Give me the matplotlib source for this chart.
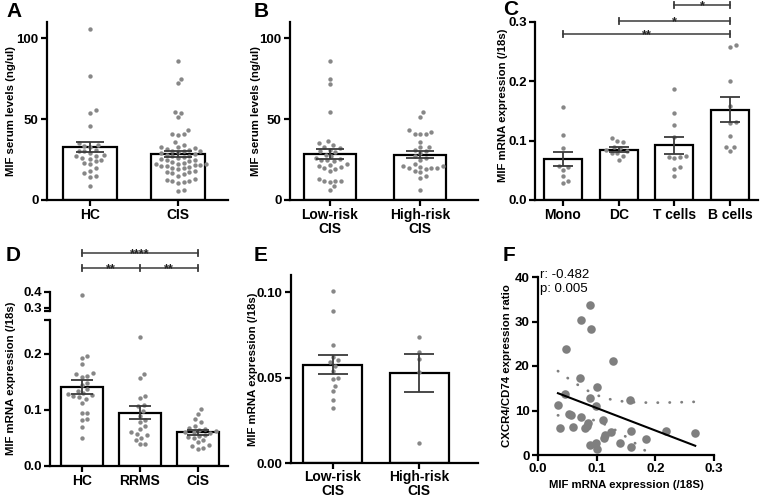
import numpy as np
import matplotlib
matplotlib.use("Agg")
import matplotlib.pyplot as plt
from matplotlib.transforms import blended_transform_factory

plt.rcParams['font.family'] = ['Liberation Sans', 'DejaVu Sans']
plt.rcParams['font.weight'] = 'bold'
plt.rcParams['axes.labelweight'] = 'bold'

# ---------------- data ----------------
# Panel A
a_groups = ['HC', 'CIS']
a_hc = [105.5, 76.5, 55.5, 53.5, 45.5, 35, 34, 33.5, 32.5, 31, 30, 30, 29, 28, 27.5, 27,
        26, 25.5, 25, 24, 23, 22, 20, 18, 16.5, 15, 14.5, 8.5]
a_cis = [86, 75, 72, 54.5, 54, 51, 43, 41, 40.5, 40, 36, 34, 33, 32.5, 32, 31.5, 31, 30.5,
         30, 30, 29.5, 29, 28.5, 28, 27.5, 27, 26.5, 26, 25.5, 25, 24.5, 24, 23.5, 23, 22.5,
         22, 22, 21.5, 21.5, 21, 21, 20.5, 20, 19.5, 19, 18, 17.5, 17, 16.5, 16, 15, 13,
         12.5, 12, 11.5, 11, 10.5, 6, 5.5]
a_mean = [32.7, 28.4]
a_sem = [3.3, 1.8]

# Panel B
b_groups = ['Low-risk\nCIS', 'High-risk\nCIS']
b_low = [86, 75, 71.5, 54.5, 36.5, 35, 34, 33, 32, 31, 30, 29.5, 28, 27, 26, 25.5, 25, 24.5,
         24, 22, 21.5, 21, 20.5, 20, 19, 18, 13, 12, 12, 11.5, 11, 8.5, 6]
b_high = [54.5, 51.5, 43, 42, 41, 40.5, 40.5, 36, 33, 32.5, 31, 30, 29, 27, 26, 25, 22, 21,
          21, 20.5, 20, 20, 19.5, 19, 18, 17, 15, 13.5, 6]
b_mean = [28.6, 28.0]
b_sem = [3.0, 2.2]

# Panel C
c_groups = ['Mono', 'DC', 'T cells', 'B cells']
c_mono = [0.156, 0.110, 0.088, 0.057, 0.056, 0.050, 0.040, 0.032, 0.028]
c_dc = [0.104, 0.100, 0.097, 0.090, 0.088, 0.085, 0.083, 0.080, 0.079, 0.075, 0.067]
c_t = [0.187, 0.147, 0.127, 0.107, 0.075, 0.073, 0.072, 0.070, 0.055, 0.053, 0.041]
c_b = [0.261, 0.258, 0.201, 0.158, 0.131, 0.130, 0.108, 0.090, 0.089, 0.082]
c_mean = [0.069, 0.085, 0.092, 0.152]
c_sem = [0.012, 0.004, 0.014, 0.021]

# Panel D
d_groups = ['HC', 'RRMS', 'CIS']
d_hc = [0.38, 0.196, 0.193, 0.181, 0.165, 0.164, 0.160, 0.158, 0.148, 0.145, 0.137, 0.133,
        0.130, 0.128, 0.126, 0.124, 0.122, 0.120, 0.113, 0.095, 0.094, 0.083, 0.082, 0.069, 0.050]
d_rrms = [0.230, 0.164, 0.157, 0.124, 0.121, 0.108, 0.106, 0.098, 0.089, 0.082, 0.078, 0.072,
          0.066, 0.060, 0.057, 0.055, 0.050, 0.047, 0.040, 0.039]
d_cis = [0.101, 0.092, 0.083, 0.078, 0.072, 0.068, 0.066, 0.064, 0.062, 0.061, 0.060, 0.058,
         0.056, 0.054, 0.052, 0.050, 0.046, 0.042, 0.038, 0.035, 0.032, 0.030]
d_mean = [0.141, 0.095, 0.060]
d_sem = [0.013, 0.011, 0.004]

# Panel E
e_groups = ['Low-risk\nCIS', 'High-risk\nCIS']
e_low = [0.1005, 0.089, 0.069, 0.062, 0.060, 0.059, 0.057, 0.054, 0.050, 0.049, 0.045,
         0.042, 0.037, 0.032]
e_high = [0.074, 0.065, 0.061, 0.053, 0.0115]
e_mean = [0.0575, 0.0528]
e_sem = [0.0056, 0.0110]

# Panel F
f_x = [0.089, 0.074, 0.090, 0.048, 0.128, 0.071, 0.101, 0.046, 0.088, 0.157, 0.034, 0.099,
       0.053, 0.056, 0.074, 0.110, 0.086, 0.083, 0.080, 0.060, 0.037, 0.125, 0.158, 0.218,
       0.268, 0.114, 0.112, 0.184, 0.140, 0.158, 0.089, 0.099, 0.100]
f_y = [33.8, 30.4, 28.3, 23.9, 21.1, 17.2, 15.3, 13.8, 12.8, 12.3, 11.3, 11.1, 9.2, 9.1, 8.5,
       7.8, 7.3, 6.6, 6.0, 6.4, 6.0, 5.2, 5.5, 5.3, 4.9, 4.5, 3.8, 3.7, 2.6, 1.9, 2.2, 2.7, 1.3]
f_text = 'r: -0.482\np: 0.005'

# ---------------- style ----------------
W, H = 760, 497
fig = plt.figure(figsize=(W / 100, H / 100), dpi=100)
POINT = '#878787'
ERR = '#3a3a3a'
LW = 1.6
YLAB = 8.2
TICK = 9.5


def add_ax(x0, x1, yb, yt):
    return fig.add_axes([x0 / W, 1 - yb / H, (x1 - x0) / W, (yb - yt) / H])


def style(ax):
    for s in ['top', 'right']:
        ax.spines[s].set_visible(False)
    for s in ['left', 'bottom']:
        ax.spines[s].set_linewidth(LW)
    ax.tick_params(width=LW, length=4, labelsize=TICK, pad=2)
    ax.set_facecolor('none')


def swarm_x(ax, center, values, d):
    pts = ax.transData.transform(np.column_stack([np.full(len(values), center), values]))
    cx = pts[0, 0]
    ys = pts[:, 1]
    order = np.argsort(ys)
    placed = []
    xs = np.zeros(len(values))
    step = d * 0.25
    for i in order:
        y = ys[i]
        best = 0.0
        for k in range(0, 200):
            cands = [0.0] if k == 0 else [k * step, -k * step]
            found = None
            for off in cands:
                if all((off - px) ** 2 + (y - py) ** 2 >= d * d * 0.98 for px, py in placed):
                    found = off
                    break
            if found is not None:
                best = found
                break
        placed.append((best, y))
        xs[i] = cx + best
    return ax.transData.inverted().transform(np.column_stack([xs, ys]))[:, 0]


def bar_panel(ax, groups, data_list, means, sems, width, cap, dot_d=5.6, s=10):
    x = np.arange(len(groups))
    ax.bar(x, means, width, color='white', edgecolor='black', linewidth=LW, zorder=2)
    for i, vals in enumerate(data_list):
        xs = swarm_x(ax, i, vals, dot_d)
        ax.scatter(xs, vals, s=s, color=POINT, linewidths=0, zorder=3, clip_on=False)
    ax.errorbar(x, means, yerr=sems, fmt='none', ecolor=ERR, elinewidth=1.3,
                capsize=cap, capthick=1.3, zorder=4)
    ax.set_xticks(x)
    ax.set_xticklabels(groups, fontsize=TICK + 0.5, linespacing=1.0)


def bracket(ax, x0, x1, ypx, mids=()):
    tr = blended_transform_factory(ax.transData, fig.transFigure)
    yf = 1 - ypx / H
    dy = 3 / H
    ax.plot([x0, x1], [yf, yf], transform=tr, color=ERR, lw=1.1, clip_on=False)
    for xe in (x0, x1) + tuple(mids):
        ax.plot([xe, xe], [yf - dy, yf + dy], transform=tr, color=ERR, lw=1.3, clip_on=False)


def star(ax, xc, ypx, label):
    tr = blended_transform_factory(ax.transData, fig.transFigure)
    ax.text(xc, 1 - (ypx + 4.5) / H, label, transform=tr, ha='center', va='baseline',
            fontsize=9, color='#222222')


def letter(xpx, ypx, t):
    fig.text(xpx / W, 1 - ypx / H, t, fontsize=15, fontweight='bold', va='top', ha='left')


def ylabel_at(xpx, ax, text, yfrac=0.5):
    ax.set_ylabel(text, fontsize=YLAB)
    ax.yaxis.set_label_coords(xpx / W, yfrac,
                              transform=blended_transform_factory(fig.transFigure, ax.transAxes))
    ax.yaxis.label.set_va('center')
    ax.yaxis.label.set_ha('center')


# ---------------- Panel A ----------------
axA = add_ax(47, 228, 200, 22)
style(axA)
axA.set_xlim(-0.49, 1.57)
axA.set_ylim(0, 110)
axA.set_yticks([0, 50, 100])
bar_panel(axA, a_groups, [a_hc, a_cis], a_mean, a_sem, 0.62, 10)
ylabel_at(11, axA, 'MIF serum levels (ng/ul)')
letter(6, 2, 'A')

# ---------------- Panel B ----------------
axB = add_ax(290, 478, 200, 22)
style(axB)
axB.set_xlim(-0.44, 1.64)
axB.set_ylim(0, 110)
axB.set_yticks([0, 50, 100])
bar_panel(axB, b_groups, [b_low, b_high], b_mean, b_sem, 0.58, 10)
ylabel_at(256, axB, 'MIF serum levels (ng/ul)')
letter(254, 2, 'B')

# ---------------- Panel C ----------------
axC = add_ax(535, 758, 200, 22)
style(axC)
axC.set_xlim(-0.5, 3.5)
axC.set_ylim(0, 0.3)
axC.set_yticks([0.0, 0.1, 0.2, 0.3])
axC.set_yticklabels(['0.0', '0.1', '0.2', '0.3'])
bar_panel(axC, c_groups, [c_mono, c_dc, c_t, c_b], c_mean, c_sem, 0.68, 7)
ylabel_at(503, axC, 'MIF mRNA expression (/18s)', 0.53)
bracket(axC, 0, 3, 34)
star(axC, 1.5, 34, '**')
bracket(axC, 1, 3, 21)
star(axC, 2.0, 21, '*')
bracket(axC, 2, 3, 5)
star(axC, 2.5, 5, '*')
letter(503, 0, 'C')

# ---------------- Panel D (broken axis) ----------------
axD = add_ax(50, 228, 466, 320)
style(axD)
axD.set_xlim(-0.55, 2.52)
axD.set_ylim(0, 0.26)
axD.set_yticks([0.0, 0.1, 0.2])
axD.set_yticklabels(['0.0', '0.1', '0.2'])
d_lists_low = [[v for v in g if v <= 0.26] for g in (d_hc, d_rrms, d_cis)]
bar_panel(axD, d_groups, d_lists_low, d_mean, d_sem, 0.72, 8)

axD2 = add_ax(50, 228, 311, 292)
style(axD2)
axD2.spines['bottom'].set_visible(False)
axD2.set_xlim(-0.55, 2.52)
axD2.set_ylim(0.28, 0.40)
axD2.set_yticks([0.3, 0.4])
axD2.set_yticklabels(['0.3', '0.4'])
axD2.set_xticks([])
for i, g in enumerate((d_hc, d_rrms, d_cis)):
    hi = [v for v in g if v > 0.26]
    if hi:
        axD2.scatter(swarm_x(axD2, i, hi, 5.6), hi, s=10, color=POINT, linewidths=0,
                     zorder=3, clip_on=False)
for ax_, yy in ((axD, 1.0), (axD2, 0.0)):
    ax_.plot([-0.035, 0.0], [yy, yy], transform=ax_.transAxes, color='black', lw=LW,
             clip_on=False, solid_capstyle='butt')
fig.text(11 / W, 1 - 378 / H, 'MIF mRNA expression (/18s)', rotation=90, fontsize=YLAB,
         fontweight='bold', ha='center', va='center')
bracket(axD, 0, 2, 253)
star(axD, 1.0, 253, '****')
bracket(axD, 0, 2, 268, mids=(1,))
star(axD, 0.5, 268, '**')
star(axD, 1.5, 268, '**')
letter(6, 246, 'D')

# ---------------- Panel E ----------------
axE = add_ax(291, 478, 463, 275)
style(axE)
axE.tick_params(axis='x', pad=1)
axE.set_xlim(-0.48, 1.68)
axE.set_ylim(0, 0.11)
axE.set_yticks([0.0, 0.05, 0.10])
axE.set_yticklabels(['0.00', '0.05', '0.10'])
bar_panel(axE, e_groups, [e_low, e_high], e_mean, e_sem, 0.68, 11)
ylabel_at(253, axE, 'MIF mRNA expression (/18s)')
letter(254, 246, 'E')

# ---------------- Panel F ----------------
axF = add_ax(538, 714, 455, 277)
style(axF)
axF.set_xlim(0, 0.3)
axF.set_ylim(0, 40)
axF.set_xticks([0.0, 0.1, 0.2, 0.3])
axF.set_xticklabels(['0.0', '0.1', '0.2', '0.3'])
axF.set_yticks([0, 10, 20, 30, 40])
fx = np.array(f_x)
fy = np.array(f_y)
axF.scatter(fx, fy, s=38, color='#7f7f7f', linewidths=0, zorder=3)
slope, intercept = np.polyfit(fx, fy, 1)
xx = np.linspace(fx.min(), fx.max(), 200)
yy = slope * xx + intercept
n = len(fx)
resid = fy - (slope * fx + intercept)
s_err = np.sqrt(np.sum(resid ** 2) / (n - 2))
sxx = np.sum((fx - fx.mean()) ** 2)
t975 = 2.0395
band = t975 * s_err * np.sqrt(1 / n + (xx - fx.mean()) ** 2 / sxx)
axF.plot(xx, yy, color='black', lw=1.5, zorder=4)
for b in (yy + band, yy - band):
    axF.plot(xx, b, color='#7f7f7f', lw=2.0, linestyle=(0, (0.1, 4.2)),
             dash_capstyle='round', zorder=2)
axF.text(0.012, 1.0 + 8 / 178, f_text, transform=axF.transAxes, fontsize=9.5,
         fontweight='normal', ha='left', va='top', linespacing=1.25)
axF.set_xlabel('MIF mRNA expression (/18S)', fontsize=YLAB, labelpad=3)
ylabel_at(507, axF, 'CXCR4/CD74 expression ratio')
letter(503, 246, 'F')

fig.savefig('out.png', dpi=100, facecolor='white')
